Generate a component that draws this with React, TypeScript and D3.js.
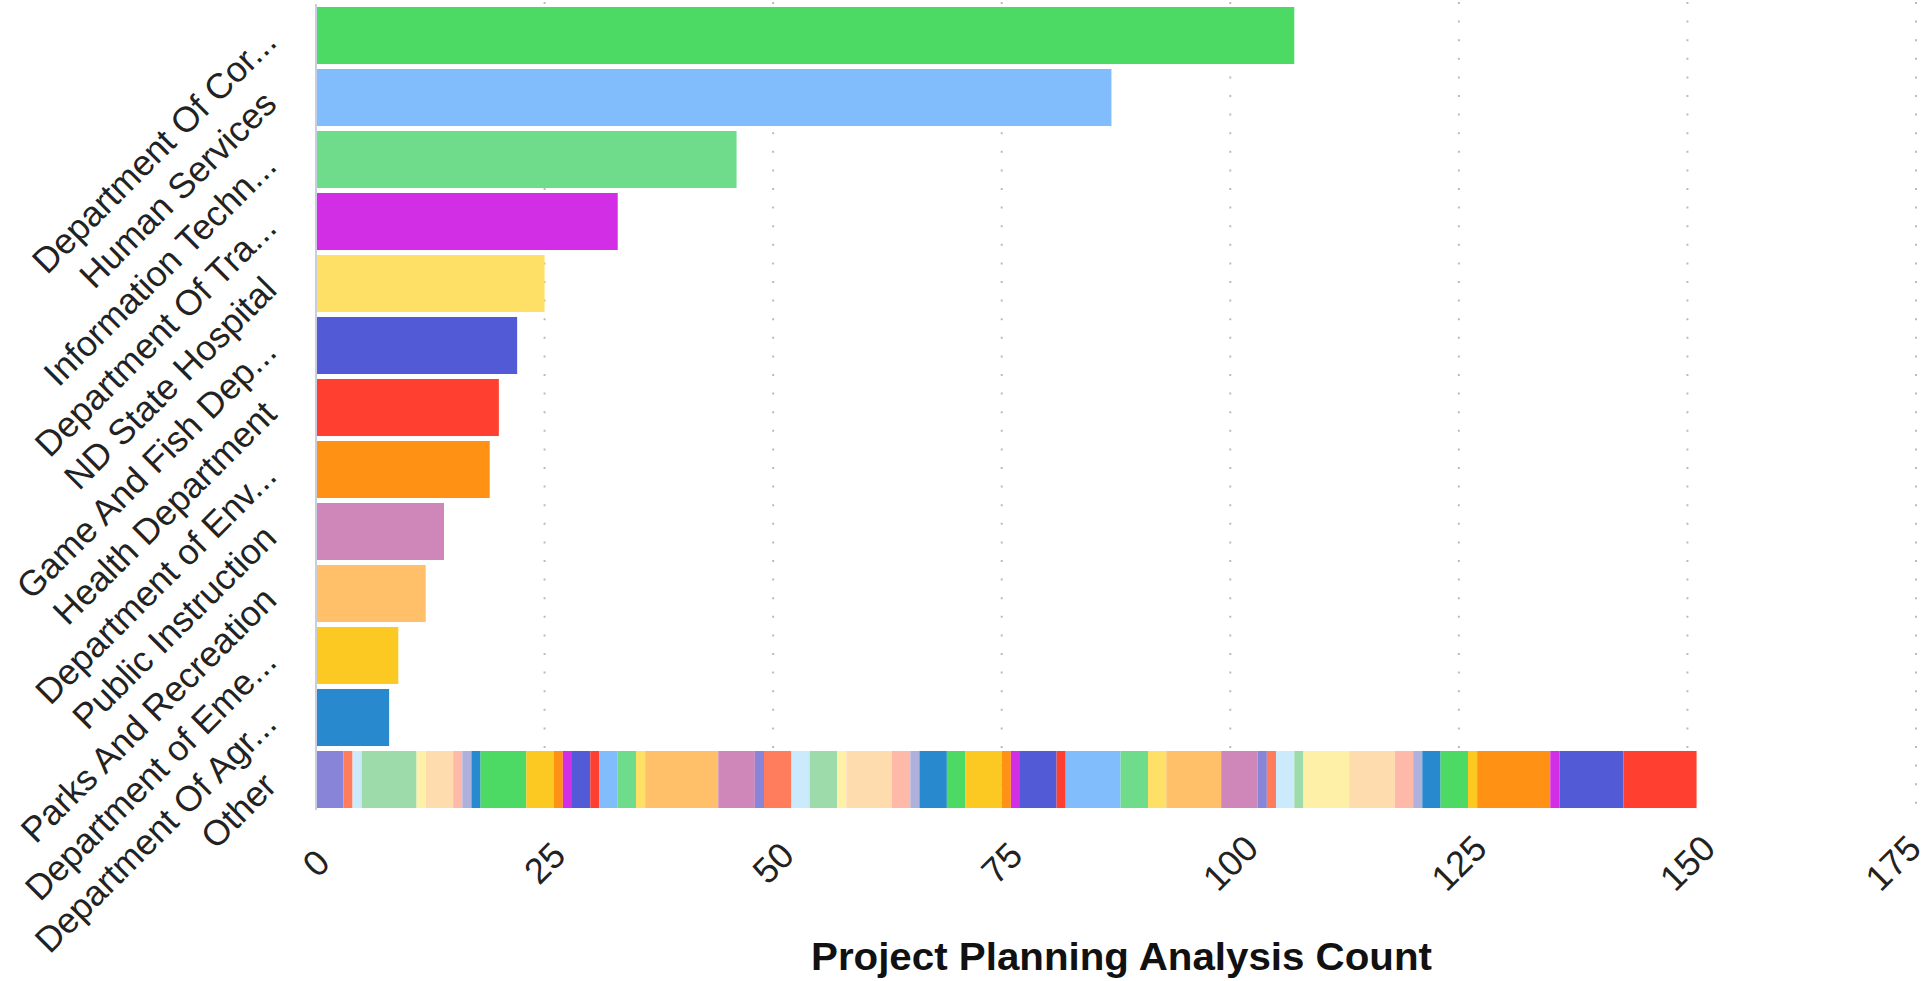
import React from "react";
import * as d3 from "d3";

const categories = [
  "Department Of Cor...",
  "Human Services",
  "Information Techn...",
  "Department Of Tra...",
  "ND State Hospital",
  "Game And Fish Dep...",
  "Health Department",
  "Department of Env...",
  "Public Instruction",
  "Parks And Recreation",
  "Department of Eme...",
  "Department Of Agr...",
  "Other",
];

const mainValues = [107, 87, 46, 33, 25, 22, 20, 19, 14, 12, 9, 8];

const mainColors = [
  "#4cd964", "#81bdfc", "#6fdc8c", "#d12ee6", "#ffe066", "#525ad6",
  "#ff3f2f", "#ff9214", "#cf87ba", "#ffc069", "#fcc822", "#2889cf",
];

// "Other" stacked bar: one segment per smaller agency
const otherValues = [
  3, 1, 1, 6, 1, 3, 1, 1, 1, 5, 3, 1, 1, 2, 1, 2, 2, 1, 8, 4,
  1, 3, 2, 3, 1, 5, 2, 1, 3, 2, 4, 1, 1, 4, 1, 6, 3, 2, 6, 4,
  1, 1, 2, 1, 5, 5, 2, 1, 2, 3, 1, 8, 1, 7, 8,
];

const otherPalette = [
  "#8884d8", "#ff7c5c", "#cbeafb", "#9edbaa", "#fff0a8", "#ffdcae", "#ffb9a8",
  "#b0b0dc", "#2889cf", "#4cd964", "#fcc822", "#ff9214", "#d12ee6", "#525ad6",
  "#ff3f2f", "#81bdfc", "#6fdc8c", "#ffe066", "#ffc069", "#cf87ba",
];

const xTicks = [0, 25, 50, 75, 100, 125, 150, 175];
const xTitle = "Project Planning Analysis Count";

const W = 1929;
const H = 981;
const FONT = "'Liberation Sans', Arial, Helvetica, sans-serif";

export default function App() {
  const x = d3.scaleLinear().domain([0, 175]).range([316, 1916]);
  const y = d3
    .scaleBand<string>()
    .domain(categories)
    .range([4.5, 810.5])
    .paddingInner(0.08)
    .paddingOuter(0.04);
  const bw = y.bandwidth();

  let cum = 0;
  const otherSegs = otherValues.map((v, i) => {
    const s = { x0: cum, x1: cum + v, color: otherPalette[i % otherPalette.length] };
    cum += v;
    return s;
  });
  const otherY = y("Other") as number;

  return (
    <svg
      width={W}
      height={H}
      style={{ position: "absolute", left: 0, top: 0, background: "#fff" }}
      fontFamily={FONT}
    >
      {/* grid */}
      {xTicks.filter((t) => t > 0).map((t) => (
        <line
          key={"g" + t}
          x1={x(t)}
          x2={x(t)}
          y1={2}
          y2={810}
          stroke="#bbbbbb"
          strokeWidth={2}
          strokeDasharray="2 16.6"
        />
      ))}

      {/* main bars */}
      {mainValues.map((v, i) => (
        <rect
          key={"b" + i}
          x={x(0)}
          y={y(categories[i])}
          width={x(v) - x(0)}
          height={bw}
          fill={mainColors[i]}
        />
      ))}

      {/* other stacked */}
      {otherSegs.map((s, i) => (
        <rect
          key={"o" + i}
          x={x(s.x0)}
          y={otherY}
          width={x(s.x1) - x(s.x0)}
          height={bw}
          fill={s.color}
        />
      ))}

      {/* y axis line */}
      <line x1={316} x2={316} y1={4} y2={810} stroke="#c9cde0" strokeWidth={2} />

      {/* y labels */}
      {categories.map((c) => {
        const cy = (y(c) as number) + bw / 2;
        const ax = 270;
        return (
          <text
            key={"l" + c}
            x={ax}
            y={cy}
            textAnchor="end"
            dominantBaseline="central"
            fontSize={35.5}
            fill="#222"
            transform={`rotate(-45 ${ax} ${cy})`}
          >
            {c}
          </text>
        );
      })}

      {/* x tick labels */}
      {xTicks.map((t) => {
        const tx = Math.min(x(t), 1893);
        const ty = 863;
        return (
          <text
            key={"t" + t}
            x={tx}
            y={ty}
            textAnchor="middle"
            dominantBaseline="central"
            fontSize={36}
            fill="#222"
            transform={`rotate(-45 ${tx} ${ty})`}
          >
            {t}
          </text>
        );
      })}

      {/* x title */}
      <text
        x={1121.5}
        y={970}
        textAnchor="middle"
        fontSize={39}
        fontWeight="bold"
        fill="#111"
        textLength={621}
        lengthAdjust="spacingAndGlyphs"
      >
        {xTitle}
      </text>
    </svg>
  );
}
